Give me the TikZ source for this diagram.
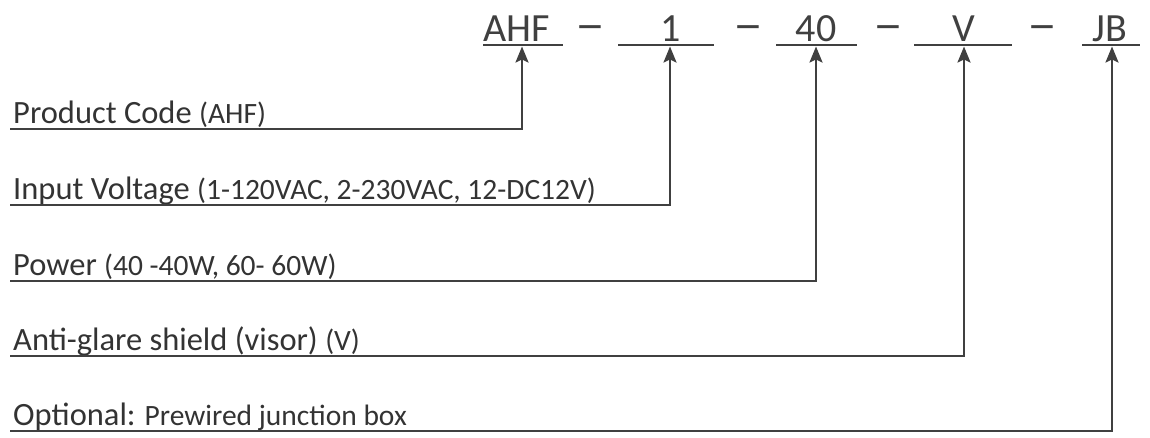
\documentclass[tikz,border=0pt]{standalone}
\usepackage{fontspec}
\setmainfont{Carlito}
\usetikzlibrary{arrows.meta}
\definecolor{ink}{HTML}{404040}
\definecolor{txt}{HTML}{333333}
\begin{document}
\begin{tikzpicture}[x=1pt,y=-1pt,
  toptxt/.style={anchor=base,inner sep=0pt,text=ink,font=\fontsize{40}{46}\selectfont},
  lbl/.style={anchor=base west,inner sep=0pt,text=txt,font=\fontsize{32.5}{38}\selectfont},
  uline/.style={draw=ink,line width=2pt},
  conn/.style={draw=ink,line width=2.6pt},
  arr/.style={draw=ink,line width=2.2pt,-{Stealth[length=16pt,width=13pt,inset=3pt]}},
]
\useasboundingbox (0,0) rectangle (1150,437);
\newcommand{\sm}[1]{{\fontsize{29.5}{34}\selectfont #1}}
\newcommand{\dsh}{\raisebox{1pt}{\scalebox{1.5}[1.2]{–}}}
% top code
\node[toptxt] (tAHF) at (516.5,41) {AHF};
\node[toptxt] (t1) at (671,41) {1};
\node[toptxt] (t40) at (816,41) {40};
\node[toptxt] (tV) at (964,41) {V};
\node[toptxt] (tJB) at (1110,41) {JB};
\node[toptxt] (d1) at (590,41) {\dsh};
\node[toptxt] (d2) at (748,41) {\dsh};
\node[toptxt] (d3) at (888,41) {\dsh};
\node[toptxt] (d4) at (1042.5,41) {\dsh};
\draw[uline] (483,45) -- (563,45);
\draw[uline] (618,45) -- (714,45);
\draw[uline] (776,45) -- (857,45);
\draw[uline] (914,45) -- (1012,45);
\draw[uline] (1082,45) -- (1140,45);
% arrow targets
\coordinate (uAHF) at (522,46.5);
\coordinate (u1) at (670,46.5);
\coordinate (u40) at (816,46.5);
\coordinate (uV) at (964,46.5);
\coordinate (uJB) at (1112,46.5);
% labels
\node[lbl] (lAHF) at (13,123) {Product Code \sm{(AHF)}};
\node[lbl] (l1) at (13,199) {Input Voltage \sm{(1-120VAC, 2-230VAC, 12-DC12V)}};
\node[lbl] (l40) at (13,275) {Power \sm{(40 -40W, 60- 60W)}};
\node[lbl] (lV) at (13,350) {Anti-glare shield (visor) \sm{(V)}};
\node[lbl] (lJB) at (13,425) {Optional:\sm{ Prewired junction box}};
% line starts
\coordinate (sAHF) at (10,129);
\coordinate (s1) at (10,205);
\coordinate (s40) at (10,281);
\coordinate (sV) at (10,356);
\coordinate (sJB) at (10,431);
% connectors
\foreach \k in {AHF,1,40,V,JB}{
  \draw[conn] (s\k) -- (s\k -| u\k) -- ++(0,-20);
  \draw[arr] (s\k -| u\k) ++(0,-18) -- (u\k);
}
\end{tikzpicture}
\end{document}
